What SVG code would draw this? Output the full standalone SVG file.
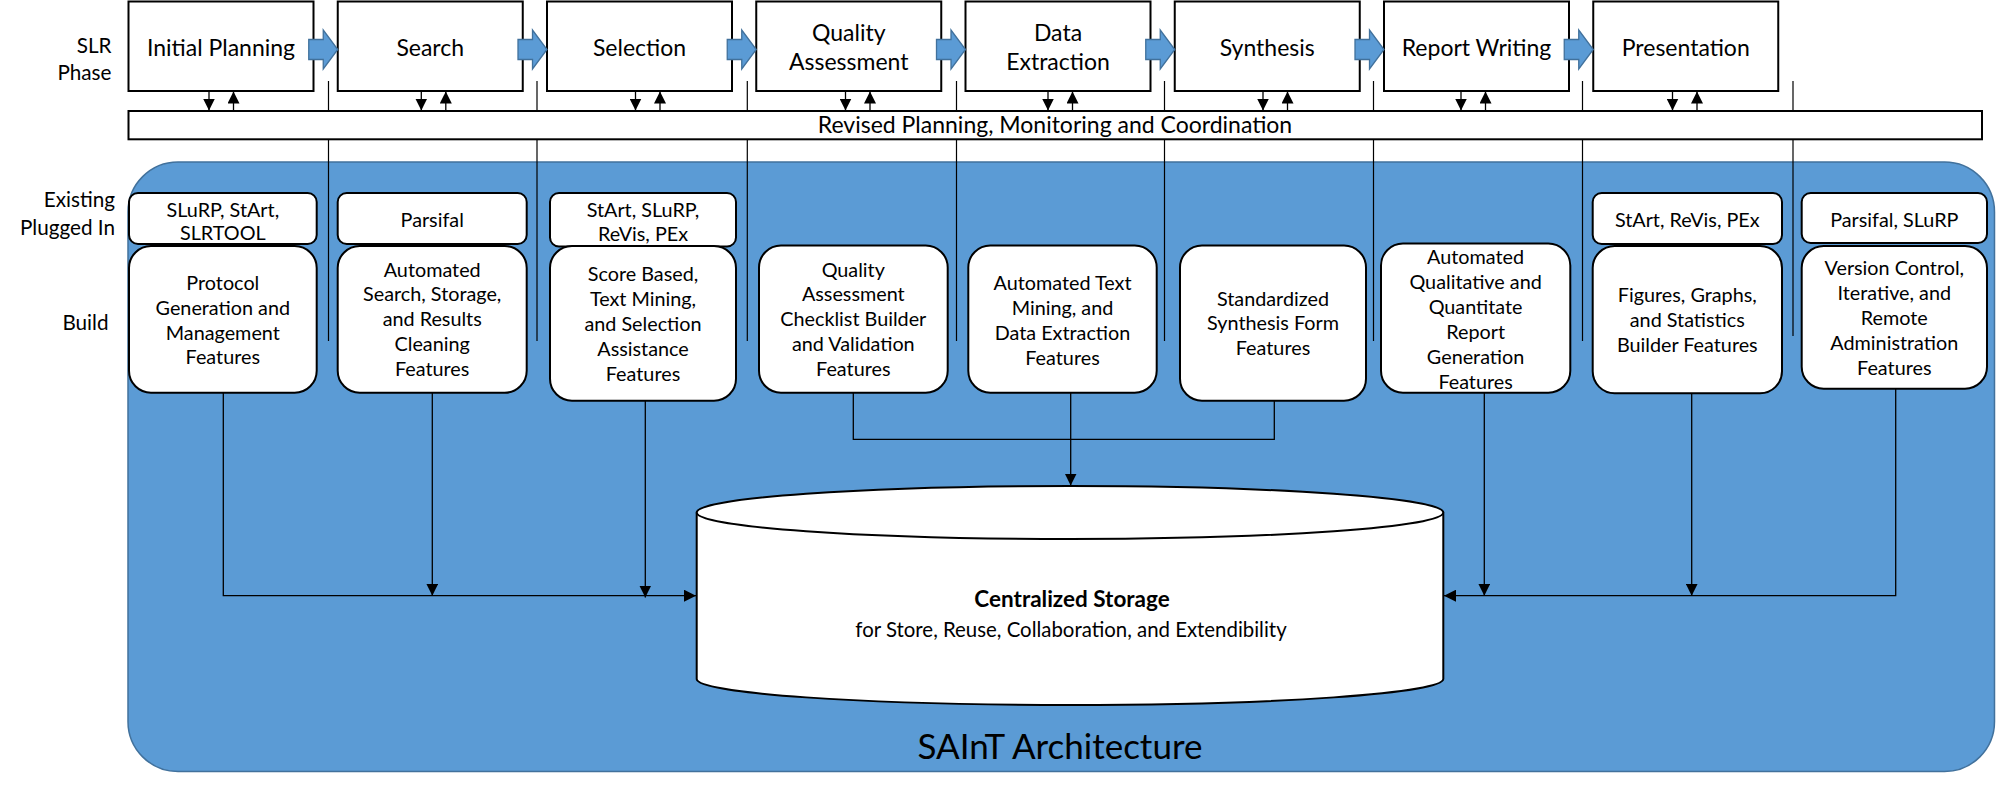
<svg xmlns="http://www.w3.org/2000/svg" width="1996" height="791" viewBox="0 0 1996 791">
<defs>
<style>
text{font-family:Lato,"Liberation Sans",sans-serif;fill:#000}
.hd{font-size:23px;text-anchor:middle}
.lb{font-size:20.7px;text-anchor:end}
.bt{font-size:19.8px;text-anchor:middle}
.phase{fill:#fff;stroke:#000;stroke-width:2}
.rbox{fill:#fff;stroke:#000;stroke-width:2}
.blue{fill:#5B9BD5;stroke:#41719C;stroke-width:1.3}
.thin{stroke:#000;stroke-width:1.2;fill:none}
.conn{stroke:#000;stroke-width:1.3;fill:none}
</style>
<marker id="ah" viewBox="0 0 10 10" refX="10" refY="5" markerWidth="12" markerHeight="12" markerUnits="userSpaceOnUse" orient="auto">
<path d="M0,0 L10,5 L0,10 z" fill="#000"/>
</marker>
</defs>
<rect width="1996" height="791" fill="#fff"/>

<!-- panel -->
<g id="panel">
<rect x="128" y="162" width="1866.5" height="609.5" rx="50" ry="50" fill="#5B9BD5" stroke="#41719C" stroke-width="1.5"/>
<text x="1060" y="759" style="font-size:35px" text-anchor="middle">SAInT Architecture</text>
</g>

<!-- left labels -->
<g id="labels">
<text class="lb" x="111.5" y="52.5">SLR</text>
<text class="lb" x="111.5" y="79.5">Phase</text>
<text class="lb" x="115" y="206.5">Existing</text>
<text class="lb" x="115" y="234.5">Plugged In</text>
<text class="lb" x="108.5" y="330">Build</text>
</g>

<!-- thin vertical lines -->
<g id="guides" class="thin">
<line x1="328.5" y1="81" x2="328.5" y2="341"/>
<line x1="537" y1="81" x2="537" y2="341"/>
<line x1="747.3" y1="81" x2="747.3" y2="341"/>
<line x1="956.5" y1="81" x2="956.5" y2="341"/>
<line x1="1164.5" y1="81" x2="1164.5" y2="341"/>
<line x1="1373.5" y1="81" x2="1373.5" y2="341"/>
<line x1="1582.5" y1="81" x2="1582.5" y2="341"/>
<line x1="1793" y1="81" x2="1793" y2="336"/>
</g>

<!-- revised bar -->
<g id="revised">
<rect class="phase" x="128.5" y="111" width="1853.5" height="28.3"/>
<text x="1055" y="132.5" text-anchor="middle" style="font-size:23px">Revised Planning, Monitoring and Coordination</text>
</g>

<!-- phase boxes -->
<g id="phase-initial-planning"><rect class="phase" x="128.5" y="1.5" width="185" height="89.5"/><text class="hd" x="221" y="56">Initial Planning</text></g>
<g id="phase-search"><rect class="phase" x="337.75" y="1.5" width="185" height="89.5"/><text class="hd" x="430.25" y="56">Search</text></g>
<g id="phase-selection"><rect class="phase" x="547" y="1.5" width="185" height="89.5"/><text class="hd" x="639.5" y="56">Selection</text></g>
<g id="phase-quality"><rect class="phase" x="756.25" y="1.5" width="185" height="89.5"/><text class="hd" x="848.75" y="40.5">Quality</text><text class="hd" x="848.75" y="70">Assessment</text></g>
<g id="phase-data"><rect class="phase" x="965.5" y="1.5" width="185" height="89.5"/><text class="hd" x="1058" y="40.5">Data</text><text class="hd" x="1058" y="70">Extraction</text></g>
<g id="phase-synthesis"><rect class="phase" x="1174.75" y="1.5" width="185" height="89.5"/><text class="hd" x="1267.25" y="56">Synthesis</text></g>
<g id="phase-report"><rect class="phase" x="1384" y="1.5" width="185" height="89.5"/><text class="hd" x="1476.5" y="56">Report Writing</text></g>
<g id="phase-presentation"><rect class="phase" x="1593.25" y="1.5" width="185" height="89.5"/><text class="hd" x="1685.75" y="56">Presentation</text></g>

<!-- flow arrows between phases -->
<g id="flow-arrows" class="blue">
<polygon points="308.75,39.5 323.25,39.5 323.25,30 337.75,49.5 323.25,69 323.25,59.5 308.75,59.5"/>
<polygon points="518,39.5 532.5,39.5 532.5,30 547,49.5 532.5,69 532.5,59.5 518,59.5"/>
<polygon points="727.25,39.5 741.75,39.5 741.75,30 756.25,49.5 741.75,69 741.75,59.5 727.25,59.5"/>
<polygon points="936.5,39.5 951,39.5 951,30 965.5,49.5 951,69 951,59.5 936.5,59.5"/>
<polygon points="1145.75,39.5 1160.25,39.5 1160.25,30 1174.75,49.5 1160.25,69 1160.25,59.5 1145.75,59.5"/>
<polygon points="1355,39.5 1369.5,39.5 1369.5,30 1384,49.5 1369.5,69 1369.5,59.5 1355,59.5"/>
<polygon points="1564.25,39.5 1578.75,39.5 1578.75,30 1593.25,49.5 1578.75,69 1578.75,59.5 1564.25,59.5"/>
</g>

<!-- existing plugged-in boxes -->
<g id="existing-0"><rect class="rbox" x="129" y="193" width="187.7" height="51" rx="9"/><text class="bt" x="222.8" y="217"><tspan>SLuRP, StArt,</tspan><tspan x="222.8" dy="23">SLRTOOL</tspan></text></g>
<g id="existing-1"><rect class="rbox" x="337.7" y="193" width="189" height="51" rx="9"/><text class="bt" x="432.2" y="227">Parsifal</text></g>
<g id="existing-2"><rect class="rbox" x="550" y="193" width="186" height="53.5" rx="9"/><text class="bt" x="643" y="217"><tspan>StArt, SLuRP,</tspan><tspan x="643" dy="24">ReVis, PEx</tspan></text></g>
<g id="existing-7"><rect class="rbox" x="1592.7" y="193" width="189.3" height="51" rx="9"/><text class="bt" x="1687.3" y="227">StArt, ReVis, PEx</text></g>
<g id="existing-8"><rect class="rbox" x="1801.7" y="193" width="185.3" height="50" rx="9"/><text class="bt" x="1894.3" y="227">Parsifal, SLuRP</text></g>

<!-- build boxes -->
<g id="build-0"><rect class="rbox" x="129" y="246" width="187.7" height="146.7" rx="22"/><text class="bt" x="222.8" y="289.7"><tspan>Protocol</tspan><tspan x="222.8" dy="24.9">Generation and</tspan><tspan x="222.8" dy="24.9">Management</tspan><tspan x="222.8" dy="24.9">Features</tspan></text></g>
<g id="build-1"><rect class="rbox" x="337.7" y="246" width="189" height="146.7" rx="22"/><text class="bt" x="432.2" y="276.5"><tspan>Automated</tspan><tspan x="432.2" dy="24.9">Search, Storage,</tspan><tspan x="432.2" dy="24.9">and Results</tspan><tspan x="432.2" dy="24.9">Cleaning</tspan><tspan x="432.2" dy="24.9">Features</tspan></text></g>
<g id="build-2"><rect class="rbox" x="550" y="246" width="186" height="154.7" rx="22"/><text class="bt" x="643" y="281.2"><tspan>Score Based,</tspan><tspan x="643" dy="24.9">Text Mining,</tspan><tspan x="643" dy="24.9">and Selection</tspan><tspan x="643" dy="24.9">Assistance</tspan><tspan x="643" dy="24.9">Features</tspan></text></g>
<g id="build-3"><rect class="rbox" x="759" y="245.5" width="188.7" height="147.2" rx="22"/><text class="bt" x="853.3" y="276.5"><tspan>Quality</tspan><tspan x="853.3" dy="24.9">Assessment</tspan><tspan x="853.3" dy="24.9">Checklist Builder</tspan><tspan x="853.3" dy="24.9">and Validation</tspan><tspan x="853.3" dy="24.9">Features</tspan></text></g>
<g id="build-4"><rect class="rbox" x="968.3" y="245.5" width="188.4" height="147.2" rx="22"/><text class="bt" x="1062.5" y="289.8"><tspan>Automated Text</tspan><tspan x="1062.5" dy="24.9">Mining, and</tspan><tspan x="1062.5" dy="24.9">Data Extraction</tspan><tspan x="1062.5" dy="24.9">Features</tspan></text></g>
<g id="build-5"><rect class="rbox" x="1180" y="245.5" width="186" height="155.2" rx="22"/><text class="bt" x="1273" y="305.5"><tspan>Standardized</tspan><tspan x="1273" dy="24.9">Synthesis Form</tspan><tspan x="1273" dy="24.9">Features</tspan></text></g>
<g id="build-6"><rect class="rbox" x="1381" y="243.5" width="189.3" height="149.2" rx="22"/><text class="bt" x="1475.6" y="263.9"><tspan>Automated</tspan><tspan x="1475.6" dy="25">Qualitative and</tspan><tspan x="1475.6" dy="25">Quantitate</tspan><tspan x="1475.6" dy="25">Report</tspan><tspan x="1475.6" dy="25">Generation</tspan><tspan x="1475.6" dy="25">Features</tspan></text></g>
<g id="build-7"><rect class="rbox" x="1592.7" y="246" width="189.3" height="147.3" rx="22"/><text class="bt" x="1687.3" y="301.5"><tspan>Figures, Graphs,</tspan><tspan x="1687.3" dy="25">and Statistics</tspan><tspan x="1687.3" dy="25">Builder Features</tspan></text></g>
<g id="build-8"><rect class="rbox" x="1801.7" y="246" width="185.3" height="142.7" rx="22"/><text class="bt" x="1894.3" y="274.9"><tspan>Version Control,</tspan><tspan x="1894.3" dy="24.9">Iterative, and</tspan><tspan x="1894.3" dy="24.9">Remote</tspan><tspan x="1894.3" dy="24.9">Administration</tspan><tspan x="1894.3" dy="24.9">Features</tspan></text></g>

<!-- storage -->
<g id="storage">
<path d="M696.7,512.5 A373.3,26.5 0 0 1 1443.3,512.5 L1443.3,679 A373.3,26 0 0 1 696.7,679 Z" fill="#fff" stroke="#000" stroke-width="2"/>
<path d="M696.7,512.5 A373.3,26.5 0 0 0 1443.3,512.5" fill="none" stroke="#000" stroke-width="2"/>
<text x="1072" y="607" text-anchor="middle" style="font-size:22.5px;font-weight:bold">Centralized Storage</text>
<text x="1071" y="636.5" text-anchor="middle" style="font-size:20.4px">for Store, Reuse, Collaboration, and Extendibility</text>
</g>

<!-- connectors -->
<g id="connectors" class="conn">
<!-- phase <-> revised bar -->
<line x1="209" y1="91" x2="209" y2="110.5" marker-end="url(#ah)"/>
<line x1="233.5" y1="111" x2="233.5" y2="91.5" marker-end="url(#ah)"/>
<line x1="421.3" y1="91" x2="421.3" y2="110.5" marker-end="url(#ah)"/>
<line x1="445.8" y1="111" x2="445.8" y2="91.5" marker-end="url(#ah)"/>
<line x1="635.5" y1="91" x2="635.5" y2="110.5" marker-end="url(#ah)"/>
<line x1="660" y1="111" x2="660" y2="91.5" marker-end="url(#ah)"/>
<line x1="845.5" y1="91" x2="845.5" y2="110.5" marker-end="url(#ah)"/>
<line x1="870" y1="111" x2="870" y2="91.5" marker-end="url(#ah)"/>
<line x1="1048" y1="91" x2="1048" y2="110.5" marker-end="url(#ah)"/>
<line x1="1072.5" y1="111" x2="1072.5" y2="91.5" marker-end="url(#ah)"/>
<line x1="1263" y1="91" x2="1263" y2="110.5" marker-end="url(#ah)"/>
<line x1="1287.5" y1="111" x2="1287.5" y2="91.5" marker-end="url(#ah)"/>
<line x1="1461" y1="91" x2="1461" y2="110.5" marker-end="url(#ah)"/>
<line x1="1485.5" y1="111" x2="1485.5" y2="91.5" marker-end="url(#ah)"/>
<line x1="1672.5" y1="91" x2="1672.5" y2="110.5" marker-end="url(#ah)"/>
<line x1="1697" y1="111" x2="1697" y2="91.5" marker-end="url(#ah)"/>
<!-- build -> storage -->
<polyline points="223.3,392.7 223.3,595.7 696,595.7" marker-end="url(#ah)"/>
<line x1="432.3" y1="392.7" x2="432.3" y2="595.7" marker-end="url(#ah)"/>
<line x1="645.3" y1="400.7" x2="645.3" y2="597.5" marker-end="url(#ah)"/>
<polyline points="853.3,392.7 853.3,439.3 1274.3,439.3 1274.3,400.7"/>
<line x1="1070.7" y1="392.7" x2="1070.7" y2="485.5" marker-end="url(#ah)"/>
<line x1="1484.3" y1="392.7" x2="1484.3" y2="595.7" marker-end="url(#ah)"/>
<line x1="1691.7" y1="393.3" x2="1691.7" y2="595.7" marker-end="url(#ah)"/>
<polyline points="1895.7,388.7 1895.7,595.7 1444,595.7" marker-end="url(#ah)"/>
</g>
</svg>
